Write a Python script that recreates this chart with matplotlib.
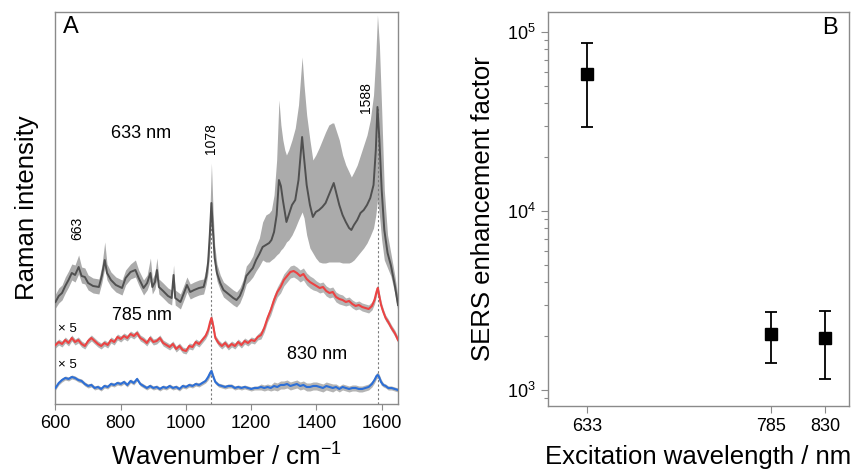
import matplotlib
matplotlib.use('Agg')
import numpy as np
import matplotlib.pyplot as plt

plt.rcParams['font.family'] = ['Liberation Sans', 'DejaVu Sans']
plt.rcParams['mathtext.default'] = 'regular'

# ---- panel A: SERS spectra (arbitrary intensity units) ----
wn_633 = [600, 610, 620, 630, 640, 650, 660, 671, 680, 690,
          700, 715, 733, 742, 751, 758, 770, 785, 804, 815,
          830, 845, 855, 870, 881, 891, 897, 905, 911, 917,
          930, 945, 956, 962, 967, 983, 995, 1003, 1013, 1025,
          1040, 1054, 1062, 1068, 1073, 1078, 1083, 1088, 1095, 1105,
          1115, 1130, 1145, 1155, 1165, 1175, 1185, 1195, 1205, 1215,
          1225, 1235, 1245, 1255, 1262, 1270, 1278, 1285, 1291, 1297,
          1303, 1308, 1315, 1325, 1335, 1345, 1356, 1362, 1370, 1380,
          1389, 1398, 1408, 1418, 1428, 1438, 1448, 1453, 1460, 1470,
          1480, 1490, 1500, 1507, 1515, 1525, 1535, 1545, 1555, 1565,
          1575, 1582, 1587, 1593, 1600, 1608, 1618, 1628, 1640, 1650]
raman_633 = [102, 108, 111, 118, 124, 131, 129, 137, 128, 127,
             121, 118, 117, 128, 144, 131, 124, 119, 116, 126,
             132, 134, 126, 116, 121, 131, 117, 122, 134, 117,
             113, 108, 106, 129, 106, 102, 112, 119, 112, 114,
             116, 117, 127, 142, 169, 201, 172, 146, 131, 121,
             114, 110, 106, 104, 108, 116, 128, 132, 136, 144,
             150, 157, 159, 161, 164, 172, 189, 224, 218, 204,
             192, 182, 189, 199, 204, 224, 267, 246, 219, 199,
             187, 192, 194, 197, 201, 209, 217, 221, 212, 199,
             189, 182, 176, 174, 179, 184, 191, 194, 199, 206,
             219, 254, 297, 264, 214, 174, 151, 139, 119, 99]
upper_633 = [110, 116, 119, 127, 133, 140, 139, 149, 137, 136,
             129, 126, 125, 138, 162, 140, 132, 127, 124, 134,
             140, 144, 134, 124, 129, 146, 125, 131, 146, 125,
             121, 116, 114, 139, 114, 110, 120, 127, 120, 122,
             124, 125, 136, 154, 189, 241, 194, 159, 140, 129,
             122, 118, 114, 112, 116, 124, 138, 142, 148, 158,
             166, 182, 189, 191, 194, 209, 244, 304, 279, 264,
             254, 249, 254, 264, 276, 299, 347, 319, 289, 264,
             244, 249, 256, 264, 272, 279, 281, 281, 274, 264,
             249, 239, 232, 227, 232, 239, 249, 259, 269, 284,
             309, 349, 389, 359, 294, 214, 169, 151, 129, 107]
lower_633 = [96, 101, 104, 111, 117, 124, 122, 130, 121, 120,
             114, 111, 110, 121, 136, 124, 117, 112, 109, 119,
             125, 127, 119, 109, 114, 123, 110, 115, 126, 110,
             106, 101, 99, 121, 99, 95, 105, 112, 105, 107,
             109, 110, 120, 132, 154, 184, 156, 136, 123, 114,
             107, 103, 99, 97, 101, 109, 120, 123, 127, 133,
             138, 144, 142, 142, 144, 146, 149, 151, 154, 156,
             159, 162, 164, 169, 176, 184, 192, 186, 169, 156,
             151, 146, 142, 141, 141, 142, 142, 142, 142, 142,
             141, 141, 141, 142, 144, 148, 152, 156, 161, 168,
             176, 189, 204, 189, 164, 144, 136, 128, 111, 92]

wn_nir = [600, 610, 620, 630, 640, 650, 660, 670, 680, 690,
          700, 710, 720, 730, 740, 750, 760, 770, 780, 790,
          800, 810, 820, 830, 840, 850, 860, 870, 880, 890,
          900, 910, 920, 930, 940, 950, 960, 970, 980, 990,
          1000, 1010, 1020, 1030, 1040, 1050, 1060, 1068, 1074, 1078,
          1083, 1090, 1100, 1110, 1120, 1130, 1140, 1150, 1160, 1170,
          1180, 1190, 1200, 1210, 1220, 1230, 1240, 1250, 1260, 1270,
          1280, 1290, 1300, 1310, 1320, 1330, 1340, 1350, 1360, 1370,
          1380, 1390, 1400, 1410, 1420, 1430, 1440, 1450, 1460, 1470,
          1480, 1490, 1500, 1510, 1520, 1530, 1540, 1550, 1560, 1570,
          1578, 1584, 1588, 1592, 1598, 1605, 1612, 1620, 1630, 1640, 1650]
raman_785 = [59, 62, 60, 64, 61, 66, 62, 64, 60, 58,
             63, 66, 63, 60, 58, 61, 59, 64, 62, 67,
             65, 68, 66, 70, 68, 71, 66, 64, 61, 66,
             62, 63, 66, 61, 59, 57, 60, 55, 58, 54,
             53, 58, 57, 62, 60, 64, 68, 74, 82, 86,
             79, 66, 61, 58, 61, 57, 60, 58, 62, 59,
             63, 61, 64, 63, 67, 69, 76, 86, 94, 104,
             112, 117, 124, 128, 132, 133, 131, 128, 130, 125,
             122, 120, 118, 116, 117, 113, 111, 112, 107, 105,
             104, 102, 103, 100, 98, 99, 97, 96, 95, 98,
             104, 112, 116, 109, 99, 92, 86, 82, 76, 71, 64]
sd_785 = [3, 3, 3, 3, 3, 3, 3, 3, 3, 3,
          3, 3, 3, 3, 3, 3, 3, 3, 3, 3,
          3, 3, 3, 3, 3, 3, 3, 3, 3, 3,
          3, 3, 3, 3, 3, 3, 3, 3, 3, 3,
          3, 3, 3, 3, 3, 3, 3, 4, 4, 4,
          4, 3, 3, 3, 3, 3, 3, 3, 3, 3,
          3, 3, 3, 3, 3, 4, 4, 4, 5, 5,
          5, 6, 6, 6, 6, 6, 6, 6, 6, 6,
          6, 6, 5, 5, 5, 5, 5, 5, 5, 5,
          5, 4, 4, 4, 4, 4, 4, 4, 4, 4,
          4, 4, 4, 4, 4, 3, 3, 3, 3, 3, 3]
raman_830 = [16, 21, 24, 26, 25, 27, 26, 24, 23, 20,
             18, 19, 16, 17, 15, 18, 17, 20, 19, 21,
             20, 22, 19, 23, 21, 25, 20, 18, 16, 18,
             16, 17, 15, 17, 16, 18, 16, 17, 15, 18,
             17, 19, 18, 20, 19, 21, 23, 27, 31, 33,
             28, 22, 19, 18, 17, 18, 18, 16, 17, 16,
             17, 16, 15, 16, 16, 17, 16, 17, 16, 18,
             17, 19, 19, 20, 18, 19, 20, 18, 19, 17,
             17, 18, 18, 17, 16, 18, 17, 16, 17, 15,
             17, 16, 15, 16, 16, 15, 15, 16, 17, 20,
             24, 28, 29, 27, 22, 19, 18, 16, 16, 15, 14]
sd_830 = [2, 2, 2, 2, 2, 2, 2, 2, 2, 2,
          2, 2, 2, 2, 2, 2, 2, 2, 2, 2,
          2, 2, 2, 2, 2, 2, 2, 2, 2, 2,
          2, 2, 2, 2, 2, 2, 2, 2, 2, 2,
          2, 2, 2, 2, 2, 2, 2, 3, 3, 3,
          3, 2, 2, 2, 2, 2, 2, 2, 2, 2,
          2, 2, 2, 2, 2, 3, 3, 3, 3, 4,
          4, 4, 4, 4, 4, 4, 4, 4, 4, 4,
          4, 4, 4, 4, 4, 4, 4, 4, 3, 3,
          3, 3, 3, 3, 3, 3, 3, 3, 3, 3,
          3, 3, 3, 3, 3, 2, 2, 2, 2, 2, 2]

marked_peaks = [1078, 1588]

# ---- panel B: enhancement factors ----
excitation = [633, 785, 830]
ef_mean = [5.8e4, 2.07e3, 1.96e3]
ef_low = [2.96e4, 1.41e3, 1.15e3]
ef_high = [8.7e4, 2.74e3, 2.77e3]

fig = plt.figure(figsize=(8.55, 4.72), dpi=100)

spine_col = '#8a8a8a'

# panel A
ax = fig.add_axes([0.0649, 0.1441, 0.4006, 0.8305])
wn_633 = np.array(wn_633)
wn_nir = np.array(wn_nir)
r785 = np.array(raman_785)
r830 = np.array(raman_830)
ax.fill_between(wn_nir, r830 - np.array(sd_830), r830 + np.array(sd_830),
                color='#b4b4b4', lw=0, zorder=1)
ax.fill_between(wn_nir, r785 - np.array(sd_785), r785 + np.array(sd_785),
                color='#b4b4b4', lw=0, zorder=1)
ax.fill_between(wn_633, lower_633, upper_633, color='#ababab', lw=0, zorder=1)
ax.plot(wn_nir, r830, color='#2d6fd6', lw=1.5, zorder=3)
ax.plot(wn_nir, r785, color='#ec4343', lw=1.5, zorder=3)
ax.plot(wn_633, raman_633, color='#505050', lw=1.4, zorder=3)

for p in marked_peaks:
    top = raman_633[list(wn_633).index(min(wn_633, key=lambda w: abs(w - p)))]
    ax.vlines(p, 0, top, colors='#7a7a7a', linestyles=(0, (2, 2)), lw=0.8, zorder=2)

ax.set_xlim(600, 1650)
ax.set_ylim(0, 392)
ax.set_yticks([])
ax.set_xticks([600, 800, 1000, 1200, 1400, 1600])
ax.tick_params(axis='x', direction='out', length=4, width=0.8, color=spine_col,
               labelsize=13, pad=4)
for s in ax.spines.values():
    s.set_color(spine_col)
    s.set_linewidth(1.0)
ax.set_xlabel('Wavenumber / cm$^{-1}$', fontsize=18.5, labelpad=8)
ax.set_ylabel('Raman intensity', fontsize=18.5, labelpad=12)

ax.text(0.045, 0.962, 'A', transform=ax.transAxes, fontsize=17, ha='center', va='center')
ax.text(862, 270, '633 nm', fontsize=13, ha='center', va='center')
ax.text(865, 88, '785 nm', fontsize=13, ha='center', va='center')
ax.text(1401, 49, '830 nm', fontsize=13, ha='center', va='center')
ax.text(607, 75, '\u00d7 5', fontsize=9.5, ha='left', va='center')
ax.text(607, 39, '\u00d7 5', fontsize=9.5, ha='left', va='center')
ax.text(666, 176, '663', fontsize=10, rotation=90, ha='center', va='center')
ax.text(1078, 265, '1078', fontsize=10, rotation=90, ha='center', va='center')
ax.text(1551, 306, '1588', fontsize=10, rotation=90, ha='center', va='center')

# panel B
bx = fig.add_axes([0.6406, 0.1398, 0.3524, 0.8354])
yerr = [np.array(ef_mean) - np.array(ef_low), np.array(ef_high) - np.array(ef_mean)]
bx.errorbar(excitation, ef_mean, yerr=yerr, fmt='s', color='black', ms=8,
            ecolor='black', elinewidth=1.3, capsize=4, capthick=1.3)
bx.set_yscale('log')
bx.set_xlim(600, 850)
bx.set_ylim(815, 1.3e5)
bx.set_xticks(excitation)
bx.tick_params(axis='both', which='major', direction='out', length=5, width=0.8,
               color=spine_col, labelsize=13)
bx.tick_params(axis='y', which='minor', direction='out', length=3, width=0.8,
               color=spine_col)
for s in bx.spines.values():
    s.set_color(spine_col)
    s.set_linewidth(1.0)
bx.set_xlabel('Excitation wavelength / nm', fontsize=18.5, labelpad=7)
bx.set_ylabel('SERS enhancement factor', fontsize=18.5, labelpad=9)
bx.text(0.937, 0.959, 'B', transform=bx.transAxes, fontsize=17, ha='center', va='center')

plt.savefig('out.png', dpi=100)
